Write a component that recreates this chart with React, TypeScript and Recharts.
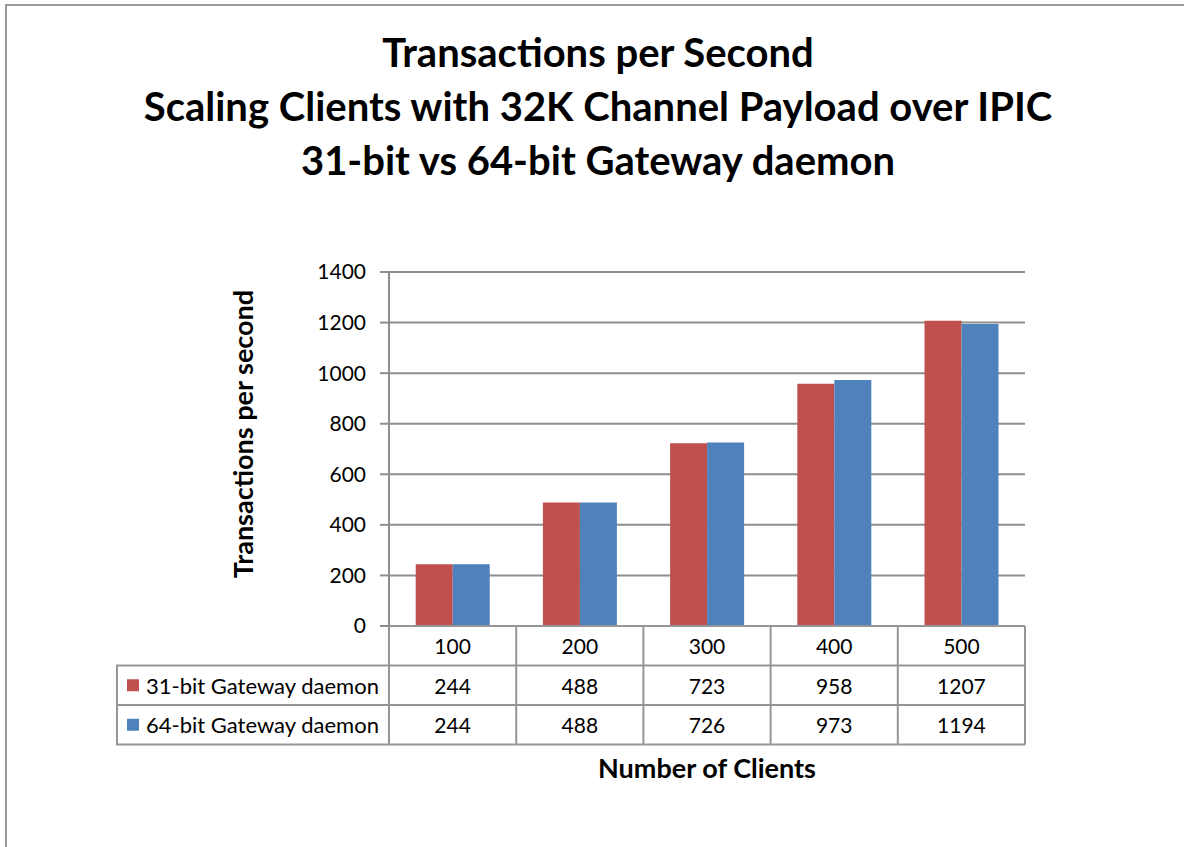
import { Bar, BarChart, CartesianGrid, Label, XAxis, YAxis } from 'recharts'

const categories = ['100', '200', '300', '400', '500']
const series31 = [244, 488, 723, 958, 1207]
const series64 = [244, 488, 726, 973, 1194]
const seriesNames = ['31-bit Gateway daemon', '64-bit Gateway daemon']
const seriesColors = ['#C0504D', '#4F81BD']
const yTicks = [0, 200, 400, 600, 800, 1000, 1200, 1400]
const titleLines = [
  'Transactions per Second',
  'Scaling Clients with 32K Channel Payload over IPIC',
  '31-bit vs 64-bit Gateway daemon',
]

const chartRows = categories.map((clients, i) => ({
  clients,
  s31: series31[i],
  s64: series64[i],
}))

const CHART_W = 1184
const CHART_H = 847
const margin = { top: 272, right: 159, bottom: 61, left: 97 }
const Y_AXIS_W = 292
const PLOT_W = CHART_W - margin.left - margin.right - Y_AXIS_W
const ROW_H = 39.5
const LEGEND_W = 272
const LINE = '#969696'
const FONT = 'Lato, "Open Sans", sans-serif'

const TableTick = (props: any) => {
  const { x, y, payload, index } = props
  const colW = PLOT_W / categories.length
  const left = x - colW / 2
  const right = left + colW
  const i = payload?.index ?? index
  const cellText = { fontSize: 21, fill: '#000', textAnchor: 'middle' as const, dominantBaseline: 'central' as const }
  return (
    <g fontFamily={FONT}>
      <line x1={right} y1={y} x2={right} y2={y + ROW_H * 3} stroke={LINE} strokeWidth={2} />
      {i === 0 && <line x1={left} y1={y} x2={left} y2={y + ROW_H * 3} stroke={LINE} strokeWidth={2} />}
      {[1, 2, 3].map((r) => (
        <line key={r} x1={left} y1={y + ROW_H * r} x2={right} y2={y + ROW_H * r} stroke={LINE} strokeWidth={2} />
      ))}
      <text x={x} y={y + ROW_H * 0.5} {...cellText}>{categories[i]}</text>
      <text x={x} y={y + ROW_H * 1.5} {...cellText}>{series31[i]}</text>
      <text x={x} y={y + ROW_H * 2.5} {...cellText}>{series64[i]}</text>
      {i === 0 && (
        <g>
          <rect x={left - LEGEND_W} y={y + ROW_H} width={LEGEND_W} height={ROW_H * 2} fill="none" stroke={LINE} strokeWidth={2} />
          <line x1={left - LEGEND_W} y1={y + ROW_H * 2} x2={left} y2={y + ROW_H * 2} stroke={LINE} strokeWidth={2} />
          {seriesNames.map((name, s) => (
            <g key={name}>
              <rect x={left - LEGEND_W + 10} y={y + ROW_H * (1.5 + s) - 6} width={12} height={12} fill={seriesColors[s]} />
              <text x={left - LEGEND_W + 29} y={y + ROW_H * (1.5 + s)} fontSize={22} fill="#000" dominantBaseline="central">
                {name}
              </text>
            </g>
          ))}
        </g>
      )}
    </g>
  )
}

export default function App() {
  return (
    <div style={{ position: 'fixed', left: 0, top: 0, width: CHART_W, height: CHART_H, overflow: 'hidden', background: '#fff' }}>
      <div
        style={{
          position: 'absolute',
          left: 0,
          top: 25,
          width: 1196,
          textAlign: 'center',
          fontFamily: FONT,
          fontWeight: 700,
          fontSize: 40,
          lineHeight: '54px',
          color: '#000',
        }}
      >
        {titleLines.map((t) => (
          <div key={t}>{t}</div>
        ))}
      </div>
      <div style={{ position: 'absolute', left: 0, top: 0 }}>
        <BarChart width={CHART_W} height={CHART_H} data={chartRows} margin={margin} barGap={0} barCategoryGap="21%">
          <CartesianGrid horizontal vertical={false} stroke="#8e8e8e" strokeWidth={2} />
          <XAxis
            dataKey="clients"
            height={160}
            interval={0}
            tickLine={false}
            tickSize={0}
            tickMargin={0}
            axisLine={{ stroke: LINE, strokeWidth: 2 }}
            tick={<TableTick />}
          >
            <Label
              value="Number of Clients"
              position="insideBottom"
              offset={8}
              style={{ fontFamily: FONT, fontWeight: 700, fontSize: 27, fill: '#000' }}
            />
          </XAxis>
          <YAxis
            width={Y_AXIS_W}
            domain={[0, 1400]}
            ticks={yTicks}
            interval={0}
            tickSize={9}
            tickMargin={14}
            tickLine={{ stroke: '#8e8e8e', strokeWidth: 2 }}
            axisLine={{ stroke: '#8e8e8e', strokeWidth: 2 }}
            tick={{ fontFamily: FONT, fontSize: 21, fill: '#000' }}
          />
          <Bar dataKey="s31" name={seriesNames[0]} fill={seriesColors[0]} isAnimationActive={false} />
          <Bar dataKey="s64" name={seriesNames[1]} fill={seriesColors[1]} isAnimationActive={false} />
        </BarChart>
      </div>
      <div
        style={{
          position: 'absolute',
          left: 243 - 200,
          top: 434 - 20,
          width: 400,
          height: 40,
          lineHeight: '40px',
          textAlign: 'center',
          transform: 'rotate(-90deg)',
          fontFamily: FONT,
          fontWeight: 700,
          fontSize: 27,
          color: '#000',
        }}
      >
        Transactions per second
      </div>
      <div style={{ position: 'absolute', left: 5, top: 4, width: 1179, height: 2, background: '#9a9a9a', pointerEvents: 'none' }} />
      <div style={{ position: 'absolute', left: 5, top: 4, width: 2, height: 843, background: '#9a9a9a', pointerEvents: 'none' }} />
    </div>
  )
}
